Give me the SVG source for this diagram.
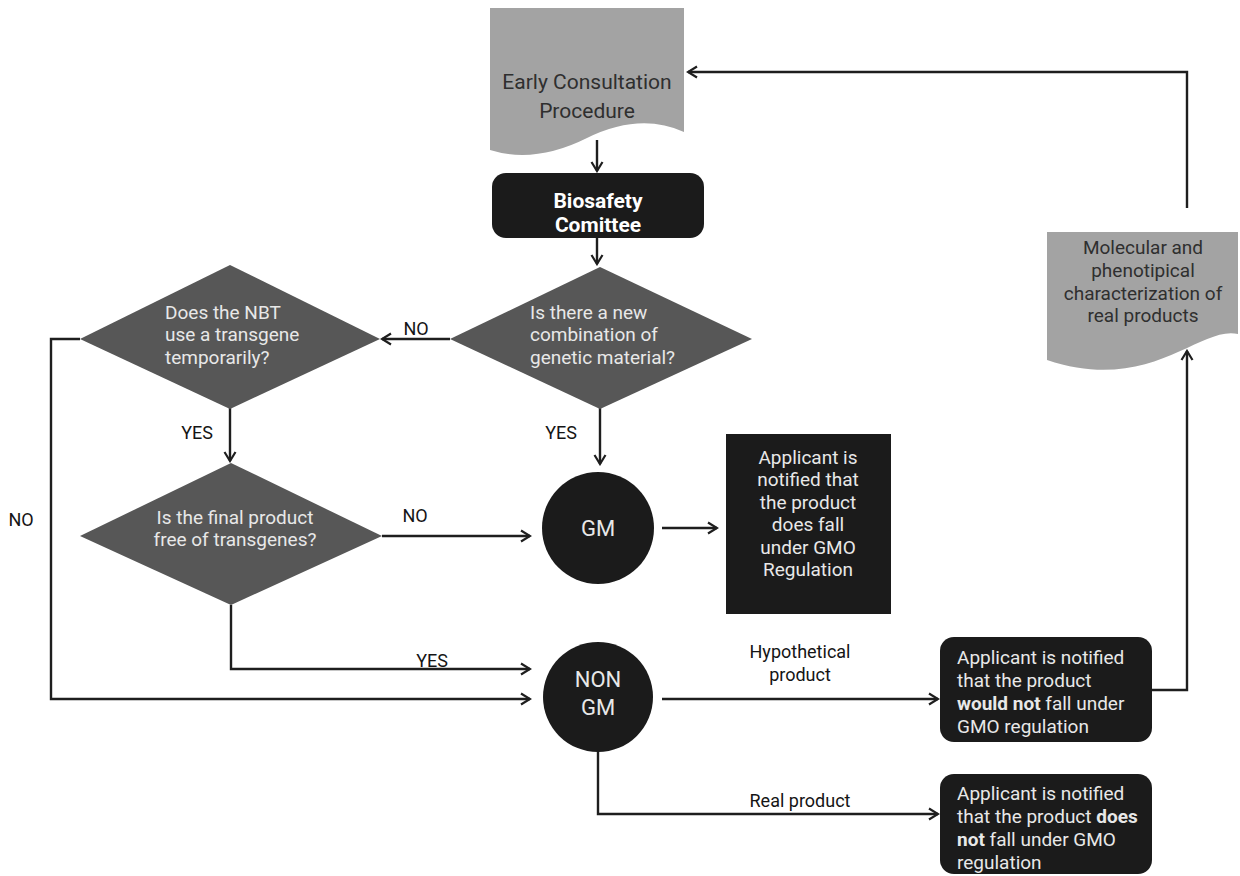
<svg xmlns="http://www.w3.org/2000/svg" width="1240" height="876" viewBox="0 0 1240 876">
<defs>
<marker id="arr" markerUnits="userSpaceOnUse" markerWidth="14" markerHeight="14" viewBox="0 0 14 14" refX="12" refY="7" orient="auto">
<path d="M3,1.5 L12,7 L3,12.5" fill="none" stroke="#1e1e1e" stroke-width="2.2" stroke-linejoin="miter"/>
</marker>
<style>
.bg{fill:#ffffff}
.doc{fill:#a3a3a3}
.dia{fill:#575757}
.blk{fill:#1b1b1b}
.conn path{fill:none;stroke:#1e1e1e;stroke-width:2.4;marker-end:url(#arr)}
text{font-family:Roboto,"Liberation Sans",sans-serif}
.dt{font-size:19px;fill:#2f2f2f;text-anchor:middle}
.wt{font-size:19px;fill:#e8e8e8}
.lbl{font-size:18px;fill:#151515;text-anchor:middle}
.c{text-anchor:middle}
.b{font-weight:bold}
</style>
</defs>
<rect class="bg" x="0" y="0" width="1240" height="876"/>

<g id="connectors" class="conn">
<path d="M597,140 V171"/>
<path d="M597,238 V264"/>
<path d="M450,339 H382"/>
<path d="M230,408 V461"/>
<path d="M600,408 V464"/>
<path d="M382,536 H530"/>
<path d="M662,528 H717"/>
<path d="M231,605 V669 H530"/>
<path d="M80,339 H51 V699 H530"/>
<path d="M662,699 H938"/>
<path d="M598,748 V814 H938"/>
<path d="M1152,690 H1187 V351"/>
<path d="M1187,208 V72 H688"/>
</g>

<g id="labels">
<text class="lbl" x="416" y="335">NO</text>
<text class="lbl" x="197" y="439">YES</text>
<text class="lbl" x="561" y="439">YES</text>
<text class="lbl" x="415" y="522">NO</text>
<text class="lbl" x="432" y="667">YES</text>
<text class="lbl" x="21" y="526">NO</text>
<text class="lbl" x="800" y="658">Hypothetical</text>
<text class="lbl" x="800" y="681">product</text>
<text class="lbl" x="800" y="807">Real product</text>
</g>

<g id="early">
<path class="doc" d="M490,8 H684 V132 Q640,112 587,138 Q535,164 490,150 Z"/>
<text class="dt" x="587" y="89" style="font-size:21px">Early Consultation</text>
<text class="dt" x="587" y="118" style="font-size:21px">Procedure</text>
</g>

<g id="biosafety">
<rect class="blk" x="492" y="173" width="212" height="65" rx="14"/>
<text class="wt c b" x="598" y="208" style="font-size:21px;fill:#fff">Biosafety</text>
<text class="wt c b" x="598" y="232" style="font-size:21px;fill:#fff">Comittee</text>
</g>

<g id="q-new-combination">
<polygon class="dia" points="600,267 752,339 600,409 450,339"/>
<text class="wt" x="530" y="319">Is there a new</text>
<text class="wt" x="530" y="341">combination of</text>
<text class="wt" x="530" y="364">genetic material?</text>
</g>

<g id="q-transgene-temporarily">
<polygon class="dia" points="230,265 380,339 230,409 80,339"/>
<text class="wt" x="165" y="319">Does the NBT</text>
<text class="wt" x="165" y="341">use a transgene</text>
<text class="wt" x="165" y="364">temporarily?</text>
</g>

<g id="q-free-of-transgenes">
<polygon class="dia" points="231,463 382,536 231,605 80,536"/>
<text class="wt c" x="235" y="524">Is the final product</text>
<text class="wt c" x="235" y="546">free of transgenes?</text>
</g>

<g id="gm">
<circle class="blk" cx="598" cy="528" r="56"/>
<text class="wt c" x="598" y="536" style="font-size:22px">GM</text>
</g>

<g id="gm-notice">
<rect class="blk" x="726" y="434" width="165" height="180"/>
<text class="wt c" x="808" y="464">Applicant is</text>
<text class="wt c" x="808" y="486">notified that</text>
<text class="wt c" x="808" y="509">the product</text>
<text class="wt c" x="808" y="531">does fall</text>
<text class="wt c" x="808" y="554">under GMO</text>
<text class="wt c" x="808" y="576">Regulation</text>
</g>

<g id="non-gm">
<circle class="blk" cx="598" cy="697" r="55"/>
<text class="wt c" x="598" y="687" style="font-size:22px">NON</text>
<text class="wt c" x="598" y="715" style="font-size:22px">GM</text>
</g>

<g id="would-not-notice">
<rect class="blk" x="940" y="637" width="212" height="105" rx="14"/>
<text class="wt" x="957" y="664">Applicant is notified</text>
<text class="wt" x="957" y="687">that the product</text>
<text class="wt" x="957" y="710"><tspan style="font-weight:bold">would not</tspan> fall under</text>
<text class="wt" x="957" y="733">GMO regulation</text>
</g>

<g id="does-not-notice">
<rect class="blk" x="940" y="774" width="212" height="100" rx="14"/>
<text class="wt" x="957" y="800">Applicant is notified</text>
<text class="wt" x="957" y="823">that the product <tspan style="font-weight:bold">does</tspan></text>
<text class="wt" x="957" y="846"><tspan style="font-weight:bold">not</tspan> fall under GMO</text>
<text class="wt" x="957" y="869">regulation</text>
</g>

<g id="molecular">
<path class="doc" d="M1047,232 H1238 V334 C1200,325 1150,395 1047,360 Z"/>
<text class="dt" x="1143" y="254">Molecular and</text>
<text class="dt" x="1143" y="277">phenotipical</text>
<text class="dt" x="1143" y="300">characterization of</text>
<text class="dt" x="1143" y="322">real products</text>
</g>
</svg>
